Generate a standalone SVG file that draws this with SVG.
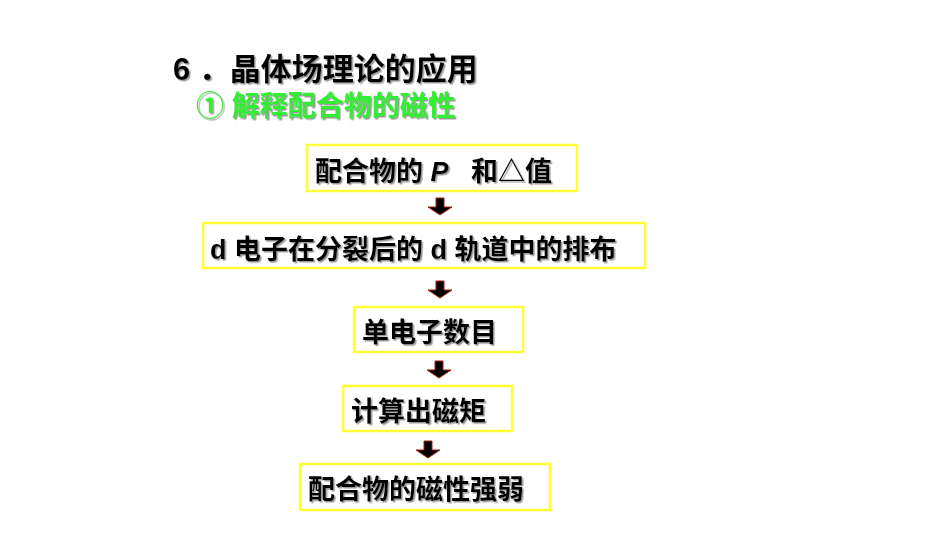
<svg xmlns="http://www.w3.org/2000/svg" width="950" height="535" viewBox="0 0 950 535">
<defs>
<filter id="sh" x="-5%" y="-20%" width="110%" height="140%">
<feDropShadow dx="1.5" dy="1.5" stdDeviation="0.6" flood-color="#808080" flood-opacity="0.8"/>
</filter>
<polygon id="arr" points="-4,0 4,0 4,9 12,9 0,17 -12,9 -4,9"/>
</defs>
<style>
text{font-family:"Liberation Sans","Noto Sans CJK SC",sans-serif;font-weight:bold;filter:url(#sh);white-space:pre;}
.t{font-size:31px;fill:#000;}
.s{font-size:28px;fill:#33ee33;}
.n{font-size:27px;fill:#000;}
.box{fill:#fff;stroke:#ffff33;stroke-width:2.5;}
.a{fill:#000;stroke:#a02010;stroke-width:1;stroke-linejoin:miter;}
</style>
<rect width="950" height="535" fill="#fff"/>
<text class="t" x="173" y="80">6 ．晶体场理论的应用</text>
<text class="s" x="196" y="116">① 解释配合物的磁性</text>
<g id="n1"><rect class="box" x="307" y="145" width="270" height="46"/><text class="n" x="315" y="181">配合物的 <tspan font-style="italic">P</tspan>   和△值</text></g>
<g id="n2"><rect class="box" x="203" y="223" width="442" height="45"/><text class="n" x="210" y="259">d 电子在分裂后的 d 轨道中的排布</text></g>
<g id="n3"><rect class="box" x="354" y="307" width="169" height="45"/><text class="n" x="362" y="342">单电子数目</text></g>
<g id="n4"><rect class="box" x="343" y="386" width="169" height="45"/><text class="n" x="351" y="421">计算出磁矩</text></g>
<g id="n5"><rect class="box" x="300" y="464" width="250" height="46"/><text class="n" x="308" y="499">配合物的磁性强弱</text></g>
<g id="connectors">
<use href="#arr" class="a" x="440" y="198"/>
<use href="#arr" class="a" x="440" y="281"/>
<use href="#arr" class="a" x="439" y="361"/>
<use href="#arr" class="a" x="428" y="441"/>
</g>
</svg>
